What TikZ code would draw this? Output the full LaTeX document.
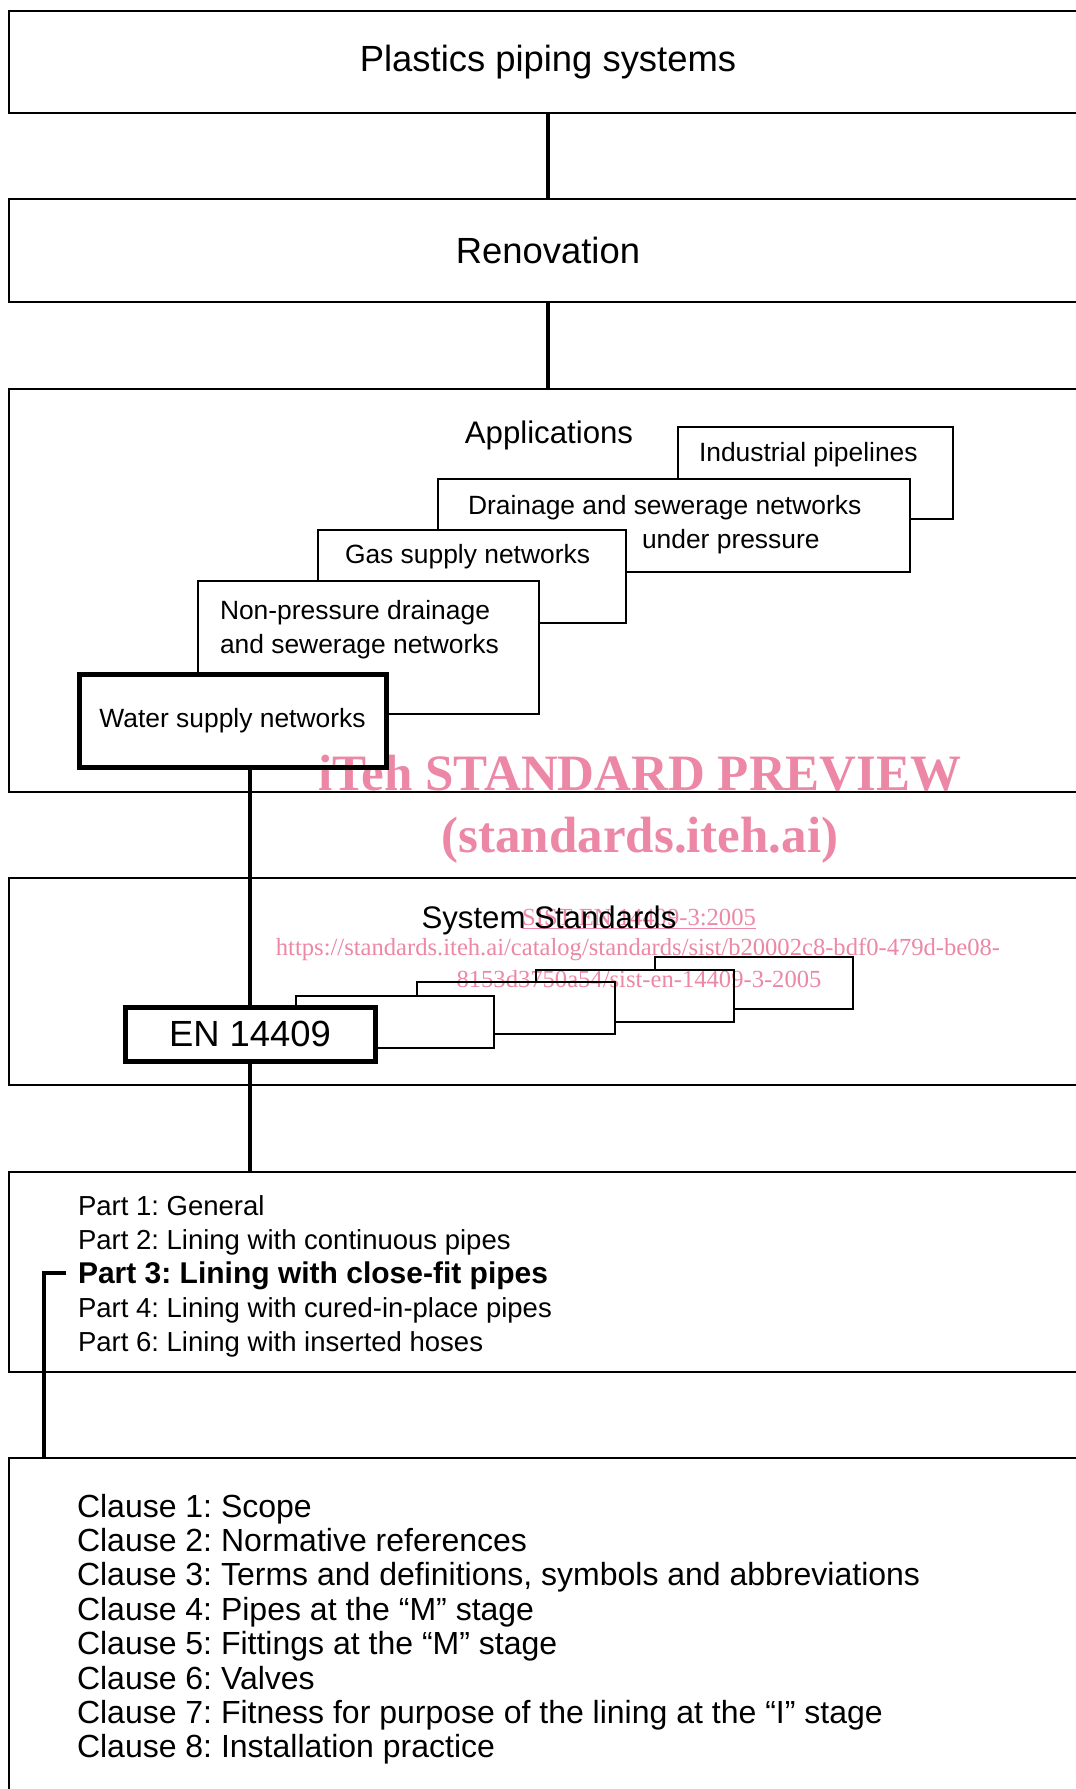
\documentclass[tikz,border=0pt]{standalone}
\usepackage{fontspec}
\setmainfont{Liberation Sans}
\newfontfamily\wmfont{Liberation Serif}
\definecolor{wmpink}{RGB}{236,135,166}
\frenchspacing

\begin{document}
\begin{tikzpicture}[x=0.5pt,y=-0.5pt,
  every node/.style={inner sep=0pt,outer sep=0pt},
  level/.style={draw,line width=1.3pt,anchor=north west,minimum width=539pt},
  appbox/.style={draw,fill=white,line width=1pt,anchor=north west},
  stdbox/.style={draw,fill=white,line width=0.8pt,anchor=north west,minimum width=99pt,minimum height=26pt},
  mainbox/.style={draw,fill=white,line width=2.5pt,anchor=north west},
  link/.style={line width=1.8pt},
  title/.style={font=\fontsize{18.2}{22}\selectfont},
  head/.style={anchor=base,font=\fontsize{15.6}{19}\selectfont},
  apptxt/.style={anchor=base west,font=\fontsize{13.2}{16}\selectfont},
  parttxt/.style={anchor=base west,font=\fontsize{13.75}{16}\selectfont},
  clausetxt/.style={anchor=base west,font=\fontsize{16}{19}\selectfont}]
\useasboundingbox (0,0) rectangle (1076,1789);
\clip (0,0) rectangle (1076,1789);

% levels
\node[level,minimum height=51pt,title] (plastics) at (9,11) {Plastics piping systems};
\node[level,minimum height=51.5pt,title] (reno) at (9,199) {Renovation};
\node[level,minimum height=201.5pt] (appl) at (9,389) {};
\node[level,minimum height=103.5pt] (sys) at (9,878) {};
\node[level,minimum height=100pt] (parts) at (9,1172) {};
\node[level,minimum height=171pt] (clauses) at (9,1458) {};

\draw[link] (plastics.south) -- (reno.north);
\draw[link] (reno.south) -- (appl.north);

% applications
\node[head] (applab) at (549,443) {Applications};
\node[appbox,minimum width=137.5pt,minimum height=46pt] (ind) at (678,427) {};
\node[apptxt] (indtxt) at (699,461) {Industrial pipelines};
\node[appbox,minimum width=236pt,minimum height=46.5pt] (drain) at (438,479) {};
\node[apptxt] (draintxt) at (468,514) {Drainage and sewerage networks};
\node[apptxt] (draintxtb) at (642,548) {under pressure};
\node[appbox,minimum width=154pt,minimum height=46.5pt] (gas) at (318,530) {};
\node[apptxt] (gastxt) at (345,563) {Gas supply networks};
\node[appbox,minimum width=170.5pt,minimum height=66.5pt] (nonp) at (198,581) {};
\node[apptxt] (nonptxt) at (220,619) {Non-pressure drainage};
\node[apptxt] (nonptxtb) at (220,653) {and sewerage networks};
\node[mainbox,minimum width=153.5pt,minimum height=46.5pt,font=\fontsize{13.2}{16}\selectfont] (water) at (79,674) {Water supply networks};

% system standards
\node[head] (syslab) at (549,928) {System Standards};
\foreach \x/\y [count=\i] in {655/957,536/970,417/982,296/996}{
  \node[stdbox] (std\i) at (\x,\y) {};
}
\node[mainbox,minimum width=125pt,minimum height=27pt,title] (en) at (125,1007) {EN 14409};

\draw[link] (en.north |- water.south) -- (en.north);
\draw[link] (en.south) -- (en.south |- parts.north);

% parts
\foreach \n/\t [count=\i from 0] in {1/General,2/Lining with continuous pipes,4/Lining with cured-in-place pipes,6/Lining with inserted hoses}{
  \pgfmathsetmacro\yy{\i<2 ? 1215+34*\i : 1249+34*\i}
  \node[parttxt] (p\n) at (78,\yy) {Part \n: \t};
}
\node[parttxt,font=\bfseries\fontsize{15}{18}\selectfont] (p3) at (78,1283) {Part 3: Lining with close-fit pipes};

\coordinate (brk) at (44,1273);
\draw[link] ([xshift=-6pt]brk -| p3.west) -- (brk) -- (brk |- clauses.north);

% clauses
\foreach \t [count=\i] in {Scope,Normative references,{Terms and definitions{,} symbols and abbreviations},Pipes at the “M” stage,Fittings at the “M” stage,Valves,Fitness for purpose of the lining at the “I” stage,Installation practice}{
  \node[clausetxt] (c\i) at (77,1517+34.4*\i-34.4) {Clause \i: \t};
}

% preview stamp
\begin{scope}[blend mode=multiply,every node/.style={inner sep=0pt,anchor=base,text=wmpink}]
\node[font=\wmfont\bfseries\fontsize{25.5}{30}\selectfont] (wma) at (640,790) {iTeh STANDARD PREVIEW};
\node[font=\wmfont\bfseries\fontsize{25.5}{30}\selectfont] (wmb) at (640,852) {(standards.iteh.ai)};
\node[font=\wmfont\fontsize{12.3}{14}\selectfont] (wmc) at (639,925) {\underline{SIST EN 14409-3:2005}};
\node[font=\wmfont\fontsize{12.3}{14}\selectfont] (wmd) at (638,955) {https://standards.iteh.ai/catalog/standards/sist/b20002c8-bdf0-479d-be08-};
\node[font=\wmfont\fontsize{12.3}{14}\selectfont] (wme) at (639,987) {8153d3750a54/sist-en-14409-3-2005};
\end{scope}

\end{tikzpicture}
\end{document}
